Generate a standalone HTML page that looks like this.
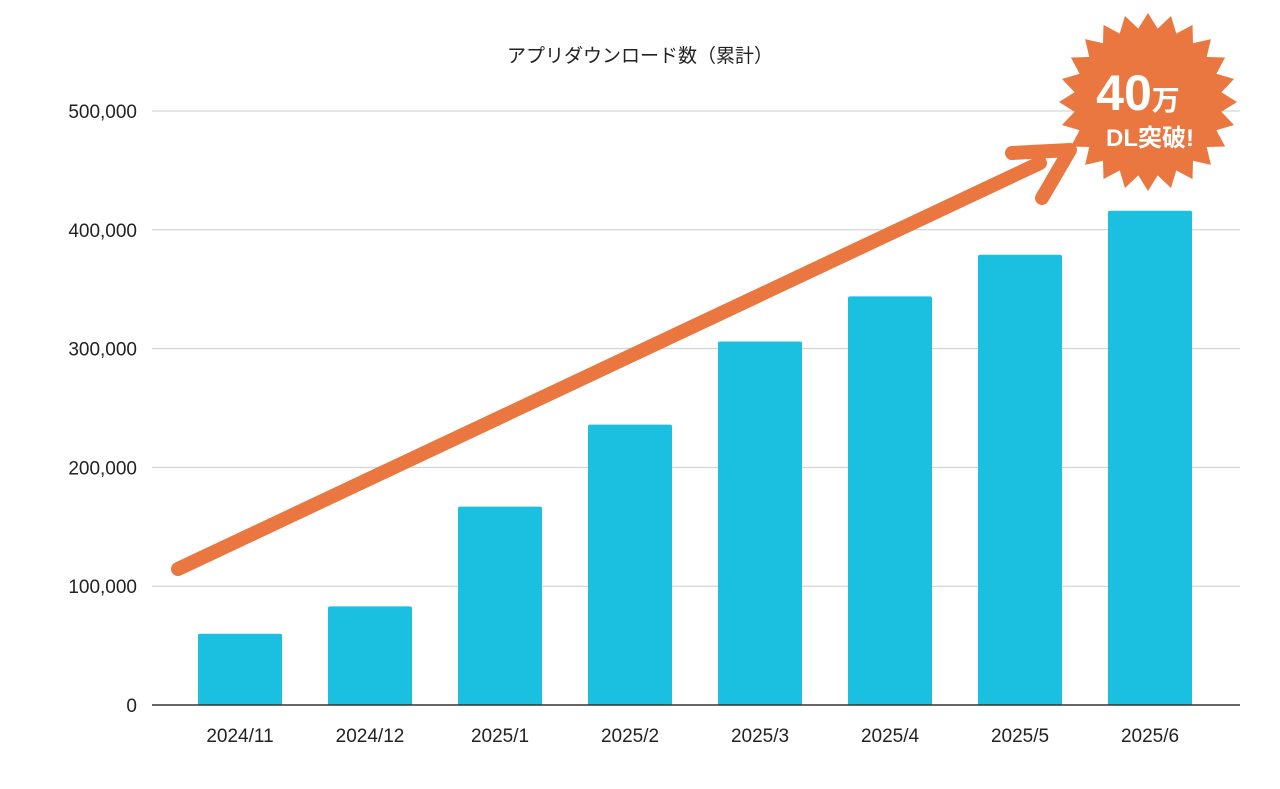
<!DOCTYPE html>
<html><head><meta charset="utf-8"><style>
body{margin:0;background:#fff;}
svg{display:block;font-family:"Liberation Sans","Noto Sans CJK JP",sans-serif;}
</style></head><body>
<svg id="chart" width="1280" height="789">
<text x="640" y="62" text-anchor="middle" font-size="19" fill="#222">アプリダウンロード数（累計）</text>
<g id="grid"></g><g id="bars"></g><g id="xlabels"></g>
<line x1="152" y1="705" x2="1240" y2="705" stroke="#333" stroke-width="1.5"/>
<g>
<line x1="178" y1="569" x2="1040" y2="163" stroke="#E9773F" stroke-width="14" stroke-linecap="round"/>
<polyline points="1012,153 1070,150 1042,198" fill="none" stroke="#E9773F" stroke-width="14" stroke-linecap="round" stroke-linejoin="round"/>
</g>
<g>
<polygon id="star" fill="#E9773F"/>
<text x="1138" y="110" text-anchor="middle" font-size="50" font-weight="bold" fill="#fff">40<tspan font-size="28">万</tspan></text>
<text x="1150" y="146" text-anchor="middle" font-size="24" font-weight="bold" fill="#fff">DL突破!</text>
</g>
</svg>
<script>
const categories=["2024/11","2024/12","2025/1","2025/2","2025/3","2025/4","2025/5","2025/6"];
const values=[60000,83000,167000,236000,306000,344000,379000,416000];
const ticks=[0,100000,200000,300000,400000,500000];
const NS="http://www.w3.org/2000/svg";
const y0=705,yTop=111,maxV=500000,xStart=175,band=130,bw=84;
const y=v=>y0-(v/maxV)*(y0-yTop);
const x=i=>xStart+band*i+band/2;
function mk(t,a,p){const e=document.createElementNS(NS,t);for(const k in a)e.setAttribute(k,a[k]);p.appendChild(e);return e;}
const grid=document.getElementById('grid');
ticks.forEach(t=>{
 if(t>0){const l=mk('line',{x1:152,x2:1240,y1:y(t),y2:y(t),stroke:'#ccc','stroke-width':1},grid);
 
 }
 const tx=mk('text',{x:137,y:y(t)+7,'text-anchor':'end','font-size':19,fill:'#222'},grid);
 tx.textContent=t.toLocaleString('en-US');
 
 
});
const bars=document.getElementById('bars'),xl=document.getElementById('xlabels');
values.forEach((v,i)=>{
 const r=mk('rect',{x:x(i)-bw/2,y:y(v),width:bw,height:y0-y(v),fill:'#1BBFE0',rx:2},bars);
 
 
 const t=mk('text',{x:x(i),y:742,'text-anchor':'middle','font-size':19,fill:'#222'},xl);
 t.textContent=categories[i];
 
 
});
const pts=[],n=24,cx=1148,cy=102;
for(let i=0;i<n*2;i++){const r=i%2?74:89,a=Math.PI*i/n-Math.PI/2;pts.push((cx+r*Math.cos(a)).toFixed(1)+','+(cy+r*Math.sin(a)).toFixed(1));}
document.getElementById('star').setAttribute('points',pts.join(' '));
</script>
</body></html>
